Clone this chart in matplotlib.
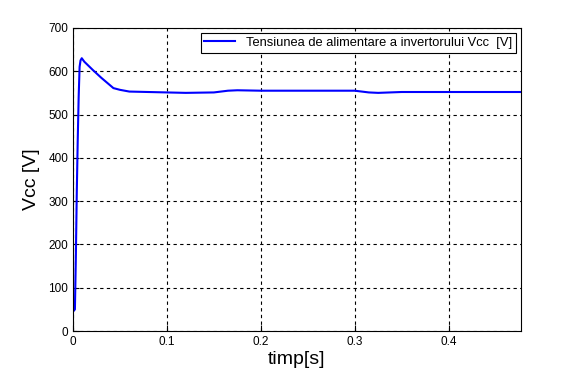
import matplotlib
matplotlib.use("Agg")
import matplotlib.pyplot as plt

# Values
TIME_S = [0, 0.002, 0.003, 0.004, 0.005, 0.006, 0.007, 0.008, 0.0093, 0.012,
          0.021, 0.03, 0.043, 0.05, 0.06, 0.08, 0.1, 0.12, 0.15, 0.165, 0.175,
          0.2, 0.25, 0.3, 0.315, 0.325, 0.35, 0.4, 0.477]
VCC_V = [45, 50, 170, 320, 440, 540, 610, 625, 630, 622,
         603, 585, 561, 557, 553, 552, 551, 550, 551, 555, 556,
         555, 555, 555, 551, 550, 552, 552, 552]

X_TICKS = [0, 0.1, 0.2, 0.3, 0.4]
Y_TICKS = [0, 100, 200, 300, 400, 500, 600, 700]

plt.rcParams["font.family"] = ["Liberation Sans", "DejaVu Sans"]

fig = plt.figure(figsize=(5.75, 3.72), dpi=100)
ax = fig.add_axes([0.127, 0.110, 0.779, 0.815])
ax.plot(TIME_S, VCC_V, color="#0000ff", linewidth=1.5,
        label="Tensiunea de alimentare a invertorului Vcc  [V]")
ax.set_xlim(0, 0.477)
ax.set_ylim(0, 700)
ax.set_xticks(X_TICKS)
ax.set_xticklabels(["0", "0.1", "0.2", "0.3", "0.4"])
ax.set_yticks(Y_TICKS)
ax.tick_params(direction="in", labelsize=8.5, length=4, width=0.8)
ax.grid(True, color="black", linestyle=(0, (3, 3)), linewidth=0.8)
for spine in ax.spines.values():
    spine.set_linewidth(0.8)
ax.set_xlabel("timp[s]", fontsize=14, labelpad=2)
ax.set_ylabel("Vcc [V]", fontsize=14, labelpad=6)
leg = ax.legend(loc="upper right", fontsize=9.3, fancybox=False, framealpha=1,
                edgecolor="black", borderaxespad=0.4, handlelength=2.4,
                borderpad=0.3)
leg.get_frame().set_linewidth(0.8)
fig.savefig("out.png", dpi=100)
